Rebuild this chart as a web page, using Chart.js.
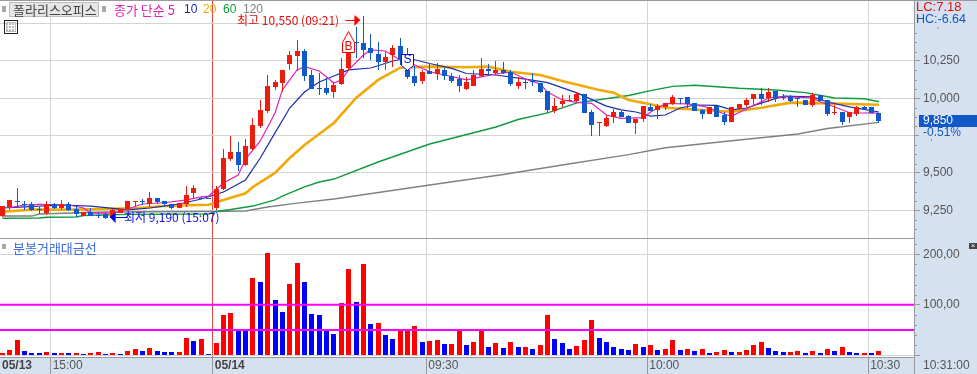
<!DOCTYPE html>
<html lang="ko">
<head>
<meta charset="utf-8">
<title>폴라리스오피스</title>
<style>
  html, body { margin: 0; padding: 0; background: #fff; overflow: hidden; }
  canvas { display: block; }
</style>
<script src="https://cdn.jsdelivr.net/npm/chart.js@4/dist/chart.umd.min.js"></script>
</head>
<body>
<canvas id="stockChart" width="977" height="374"></canvas>
<script>
// candles, one per minute (05/13 tail, then 05/14 from 09:01)
const openPrices = [
  9210,9270,9315,9290,9295,9260,9230,9290,9265,9295,
  9260,9210,9235,9220,9225,9195,9230,9250,9305,9310,
  9290,9335,9310,9290,9265,9290,9365,9335,9335,9265,
  9395,9595,9640,9555,9660,9815,9915,10075,10105,10230,
  10285,10315,10155,10070,10070,10040,10095,10200,10375,10370,
  10335,10295,10245,10290,10350,10190,10150,10115,10180,10165,
  10190,10150,10130,10060,10080,10150,10195,10170,10190,10175,
  10080,10110,10115,10100,10050,9915,9960,9980,9980,10030,
  9910,9835,9815,9875,9910,9880,9835,9860,9940,9920,
  9940,9960,10005,10010,9970,9920,9895,9950,9890,9840,
  9930,9955,9995,10030,10000,10050,10010,10010,10005,9990,
  9955,10020,9990,9900,9910,9875,9895,9940,9940,9900
];
const closePrices = [
  9280,9320,9305,9285,9250,9255,9290,9265,9290,9250,
  9225,9235,9210,9215,9195,9250,9255,9310,9315,9305,
  9335,9305,9290,9265,9300,9355,9400,9325,9330,9395,
  9600,9640,9555,9680,9820,9920,10080,10110,10190,10290,
  10315,10150,10060,10065,10035,10090,10195,10310,10370,10325,
  10305,10245,10275,10335,10265,10145,10100,10175,10165,10195,
  10150,10115,10080,10110,10155,10195,10185,10190,10170,10095,
  10110,10105,10110,10040,9920,9950,9980,9990,10030,9900,
  9820,9840,9870,9910,9875,9835,9860,9950,9915,9950,
  9970,10010,10000,9960,9915,9895,9940,9875,9840,9940,
  9960,9990,10030,9995,10040,10000,10005,9985,10000,9955,
  10020,9980,9895,9910,9840,9910,9940,9925,9900,9850
];
const highPrices = [
  9280,9320,9400,9315,9305,9275,9310,9300,9320,9305,
  9280,9235,9265,9230,9240,9255,9255,9310,9315,9325,
  9370,9335,9315,9295,9300,9410,9420,9340,9335,9415,
  9660,9745,9705,9725,9870,9990,10155,10125,10190,10315,
  10390,10330,10190,10170,10135,10110,10270,10375,10475,10550,
  10430,10375,10310,10355,10405,10335,10215,10190,10235,10235,
  10205,10170,10155,10145,10190,10270,10230,10250,10240,10190,
  10145,10125,10170,10105,10050,10000,10020,10020,10045,10030,
  9920,9840,9890,9930,9915,9885,9860,9950,9960,9960,
  9970,10020,10005,10010,9970,9925,9945,9950,9910,9945,
  9960,10000,10030,10070,10070,10050,10030,10020,10005,9990,
  10035,10020,9990,9955,9910,9910,9950,9950,9940,9900
];
const lowPrices = [
  9205,9250,9270,9250,9245,9225,9220,9260,9250,9245,
  9205,9210,9210,9195,9190,9195,9230,9250,9270,9285,
  9275,9290,9270,9260,9265,9270,9330,9325,9325,9250,
  9385,9580,9515,9545,9655,9800,9900,10055,10045,10190,
  10185,10115,10060,10020,10020,10005,10090,10180,10270,10270,
  10255,10190,10190,10210,10225,10130,10080,10095,10165,10125,
  10125,10105,10045,10055,10080,10145,10150,10155,10165,10080,
  10060,10060,10080,10035,9900,9900,9940,9980,9975,9900,
  9745,9745,9805,9835,9875,9835,9760,9840,9915,9860,
  9920,9955,9960,9935,9915,9860,9895,9875,9820,9840,
  9920,9940,9955,9955,9975,9975,9990,9975,9945,9955,
  9945,9980,9880,9890,9820,9835,9880,9920,9900,9835
];

// lower panel, r = red bar, b = blue bar
const volumes = [
  4.6,10.6,30,8.6,4.6,4.6,6.6,4.6,4.6,4.6,
  4.6,2.6,4.6,6.6,2.6,4.6,2.6,8.6,12.5,8.6,
  14.5,8.6,6.6,6.6,6.6,34,28.4,32.3,2.6,24.4,
  80,84,50,48,153,145,203,110,86,141,
  183,145,82,80,52,42,104,171,106,181,
  62,64,40,32,50,52,58,26,28,30,
  22,22,50,20,26,50,16.5,24,14.5,26,
  16.5,16.5,12.5,20,80,32,24,12.5,18.5,30,
  70,34,26,16.5,12.5,10.6,22,16.5,20,10.6,
  12.5,30,10.6,12.5,8.6,12.5,4.6,6.6,10.6,6.6,
  6.6,10.6,20,26,14.5,8.6,6.6,6.6,8.6,4.6,
  8.6,4.6,12.5,8.6,16.5,6.6,4.6,4.6,4.6,8.6
];
const volumeSides =
  'rrrbbbrbrb' + 'rbrrbrbrrb' + 'rbbbrrbrbr' + 'rrbbrbrbbr' + 'rbbbbbrrbr' +
  'brbbrrrbrr' + 'brrbrrbrbr' + 'brbrrbbbrr' + 'rbbbbbrbrb' + 'rrbrbrbrrb' +
  'rrrrbbbrrb' + 'rbrbrbbrbr';
const volumeLevels = [100, 50];

// moving averages at the candles listed in each *Bars array
const ma5Bars = [1,3,5,9,11,12,15,17,19,22,25,27,28,30,32,33,35,37,38,39,40,41,43,45,46,47,49,50,52,54,56,58,60,63,65,67,69,71,73,74,76,78,80,82,84,87,88,90,93,95,96,98,99,101,103,104,106,110,111,113,115,119];
const ma5Values = [9267,9285,9290,9285,9265,9231,9231,9258,9292,9300,9319,9339,9345,9432,9486,9593,9714,9902,10056,10123,10190,10212,10183,10102,10123,10190,10290,10324,10317,10257,10223,10178,10156,10123,10143,10163,10176,10129,10096,10042,9989,9973,9966,9888,9866,9870,9908,9965,9962,9948,9935,9895,9881,9928,9977,10002,10011,10002,9977,9942,9903,9900];
const ma10Bars = [0,3,8,12,17,20,24,27,30,33,35,37,39,41,43,45,47,50,53,55,58,61,63,67,71,74,78,82,84,86,88,90,92,94,97,99,101,103,106,110,112,115,119];
const ma10Values = [9265,9272,9285,9278,9252,9265,9292,9325,9372,9453,9600,9768,9935,10042,10109,10149,10190,10203,10250,10270,10233,10200,10166,10156,10129,10105,10036,9948,9922,9908,9881,9888,9935,9955,9952,9922,9935,9968,10015,10009,9975,9942,9908];
const ma20Bars = [0,4,10,18,22,28,30,33,34,37,39,41,45,48,51,54,58,63,66,69,73,76,81,83,85,88,90,95,99,103,107,112,119];
const ma20Values = [9240,9254,9254,9263,9278,9287,9319,9364,9406,9500,9600,9687,9835,10002,10123,10205,10212,10208,10212,10178,10156,10116,10056,10038,9989,9960,9937,9922,9910,9937,9971,9966,9957];
const ma60Bars = [0,5,6,10,11,17,28,29,31,34,37,38,41,43,45,51,58,67,70,74,78,85,88,91,94,100,105,109,113,117,119];
const ma60Values = [9196,9198,9203,9205,9215,9222,9225,9242,9255,9278,9319,9345,9406,9439,9459,9573,9694,9808,9858,9902,9969,10019,10051,10080,10087,10067,10056,10038,10002,9997,9977];
const ma120Bars = [0,4,5,14,28,33,36,40,45,58,68,76,85,90,99,108,112,119];
const ma120Values = [9211,9211,9225,9238,9242,9245,9272,9298,9325,9419,9489,9553,9623,9669,9716,9761,9798,9839];

// axis ticks
const priceTicks = [9250, 9500, 9750, 10000, 10250, 10500];
const volumeTicks = [0, 100, 200];
const volumeTickLabels = ['', '100,00', '200,00'];
const timeTicks = [-0.34, 6.54, 28.54, 57.54, 87.54, 117.54];
const timeLabels = ['05/13', '15:00', '05/14', '09:30', '10:00', '10:30'];
const lastTimeLabel = '10:31:00';

const lastPrice = 9850;
const highBar = 49;
const lowBar = 14;
const buyBar = 47;
const sellBar = 55;

const CANDLE_UP = '#EE1C0C';
const CANDLE_DOWN = '#1159C8';
const BAND = '#D6E1EF';
const AXIS_LINE = '#999999';
const GRID = '#D4D4D4';
const TEXT = '#555555';
const NUM_FONT = '"Liberation Sans", sans-serif';
const KR_FONT = '"Noto Sans CJK KR", sans-serif';

const isUp = openPrices.map((o, i) => closePrices[i] >= o);

function linePoints(bars, values) {
  return bars.map((bar, i) => ({ x: bar, y: values[i] }));
}

function maLine(label, bars, values, color, width, order) {
  return {
    type: 'line',
    label,
    data: linePoints(bars, values),
    yAxisID: 'y',
    borderColor: color,
    borderWidth: width,
    pointRadius: 0,
    tension: 0,
    order
  };
}

const xMin = -0.34;
const xMax = 123.76;

const datasets = [
  // volume panel
  {
    label: 'volume',
    data: volumes.map((v, i) => ({ x: i, y: v })),
    yAxisID: 'yVol',
    backgroundColor: volumes.map((v, i) => volumeSides[i] === 'r' ? '#FF0000' : '#0000FF'),
    barThickness: 5,
    grouped: false,
    inflateAmount: 0,
    order: 11
  },
  ...volumeLevels.map((level) => ({
    type: 'line',
    label: 'level ' + level,
    data: [{ x: xMin, y: level }, { x: xMax, y: level }],
    yAxisID: 'yVol',
    borderColor: '#FF00FF',
    borderWidth: 2,
    pointRadius: 0,
    order: 10
  })),
  // price panel
  maLine('120', ma120Bars, ma120Values, '#808080', 1.4, 9),
  maLine('60', ma60Bars, ma60Values, '#0E9A3E', 1.4, 8),
  maLine('20', ma20Bars, ma20Values, '#F0AA08', 2.6, 7),
  maLine('10', ma10Bars, ma10Values, '#1A2FA8', 1.2, 6),
  maLine('5', ma5Bars, ma5Values, '#E020B8', 1.2, 5),
  {
    label: 'wick',
    data: openPrices.map((o, i) => ({ x: i, y: [lowPrices[i], highPrices[i]] })),
    yAxisID: 'y',
    backgroundColor: isUp.map((up) => up ? CANDLE_UP : CANDLE_DOWN),
    barThickness: 1,
    grouped: false,
    inflateAmount: 0,
    order: 2
  },
  {
    label: 'body',
    data: openPrices.map((o, i) => ({ x: i, y: [Math.min(o, closePrices[i]), Math.max(o, closePrices[i])] })),
    yAxisID: 'y',
    backgroundColor: isUp.map((up) => up ? CANDLE_UP : CANDLE_DOWN),
    barThickness: 5,
    grouped: false,
    inflateAmount: 0,
    order: 1
  }
];

// the original draws on whole pixels, so snap the bars too
const snapBars = {
  id: 'snapBars',
  beforeDatasetsDraw(chart) {
    chart.getSortedVisibleDatasetMetas().forEach((meta) => {
      if (meta.type !== 'bar') return;
      meta.data.forEach((bar) => {
        bar.x = Math.floor(bar.x) + 0.5;
        bar.y = Math.round(bar.y);
        bar.base = Math.round(bar.base);
        if (bar.base - bar.y < 1) bar.base = bar.y + 1;
      });
    });
  }
};

function text(ctx, str, x, y, color, font, align) {
  ctx.font = font;
  ctx.fillStyle = color;
  ctx.textAlign = align || 'left';
  ctx.textBaseline = 'middle';
  ctx.fillText(str, x, y);
}

function hLine(ctx, x0, x1, y, color) {
  ctx.fillStyle = color;
  ctx.fillRect(x0, y, x1 - x0, 1);
}

// background bands behind the axes
const bands = {
  id: 'bands',
  beforeDraw(chart) {
    const ctx = chart.ctx;
    const right = chart.chartArea.right;
    const bottom = chart.chartArea.bottom;
    ctx.save();
    ctx.fillStyle = '#fff';
    ctx.fillRect(0, 0, chart.width, chart.height);
    ctx.fillStyle = BAND;
    ctx.fillRect(0, bottom, chart.width, chart.height - bottom);
    ctx.fillRect(right, 0, chart.width - right, chart.height);
    ctx.restore();
  }
};

// everything the trading screen paints over the chart
const overlay = {
  id: 'overlay',
  afterDraw(chart) {
    const ctx = chart.ctx;
    const { x, y, yVol } = chart.scales;
    const right = chart.chartArea.right;
    const bottom = chart.chartArea.bottom;
    ctx.save();

    // panel borders
    hLine(ctx, 0, right, 238, AXIS_LINE);
    hLine(ctx, 0, chart.width, 0, AXIS_LINE);
    ctx.fillStyle = AXIS_LINE;
    ctx.fillRect(right, 0, 1, chart.height);

    // minor ticks on the right axes
    for (let v = 9125; v < 10660; v += 62.5) {
      if (v % 250 !== 0) hLine(ctx, right, right + 3, Math.round(y.getPixelForValue(v)), AXIS_LINE);
    }
    for (let v = 20; v < 232; v += 20) {
      if (v % 100 !== 0) hLine(ctx, right, right + 3, Math.round(yVol.getPixelForValue(v)), AXIS_LINE);
    }

    // header
    ctx.fillStyle = '#A8A8A8';
    ctx.fillRect(2, 6, 4, 6);
    ctx.fillRect(102, 6, 4, 6);
    ctx.fillStyle = '#E6E6E6';
    ctx.fillRect(9, 2, 90, 14);
    ctx.strokeStyle = '#BDBDBD';
    ctx.strokeRect(9.5, 2.5, 89, 14);
    text(ctx, '폴라리스오피스', 13, 10, '#444', '13px ' + KR_FONT);
    text(ctx, '종가 단순 5', 114, 10, '#E020B8', '13px ' + KR_FONT);
    text(ctx, '10', 184, 10, '#1A2FA8', '12px ' + NUM_FONT);
    text(ctx, '20', 203, 10, '#F0AA08', '12px ' + NUM_FONT);
    text(ctx, '60', 223, 10, '#0E9A3E', '12px ' + NUM_FONT);
    text(ctx, '120', 243, 10, '#808080', '12px ' + NUM_FONT);

    // table icon
    ctx.strokeStyle = '#222';
    ctx.strokeRect(4.5, 20.5, 13, 13);
    ctx.fillStyle = '#BBB';
    ctx.fillRect(6, 22, 10, 10);
    ctx.fillStyle = '#fff';
    [8, 11, 14].forEach((px) => ctx.fillRect(px, 23, 1, 8));
    [25, 28].forEach((py) => ctx.fillRect(7, py, 8, 1));

    // high and low notes
    const highY = Math.round(y.getPixelForValue(highPrices[highBar])) + 4;
    const highX = x.getPixelForValue(highBar);
    text(ctx, '최고 10,550 (09:21)', 237, highY, '#E01010', '12px ' + KR_FONT);
    ctx.fillStyle = '#FF0000';
    ctx.fillRect(highX - 18, highY, 10, 1);
    ctx.beginPath();
    ctx.moveTo(highX - 3, highY);
    ctx.lineTo(highX - 9, highY - 5);
    ctx.lineTo(highX - 9, highY + 6);
    ctx.fill();

    const lowY = Math.round(y.getPixelForValue(lowPrices[lowBar])) - 2;
    const lowX = x.getPixelForValue(lowBar);
    text(ctx, '최저 9,190 (15:07)', 124, lowY, '#1010E0', '12px ' + KR_FONT);
    ctx.fillStyle = '#0000E0';
    ctx.fillRect(lowX + 10, lowY, 12, 1);
    ctx.beginPath();
    ctx.moveTo(lowX + 4, lowY);
    ctx.lineTo(lowX + 10, lowY - 5);
    ctx.lineTo(lowX + 10, lowY + 6);
    ctx.fill();

    // buy and sell flags
    const buyX = Math.floor(x.getPixelForValue(buyBar)) + 0.5;
    ctx.fillStyle = '#fff';
    ctx.strokeStyle = '#FF0000';
    ctx.beginPath();
    ctx.moveTo(buyX - 6, 52.5);
    ctx.lineTo(buyX - 6, 42.5);
    ctx.lineTo(buyX, 31.5);
    ctx.lineTo(buyX + 6, 42.5);
    ctx.lineTo(buyX + 6, 52.5);
    ctx.closePath();
    ctx.fill();
    ctx.stroke();
    text(ctx, 'B', buyX, 47, '#FF0000', '12px ' + NUM_FONT, 'center');

    const sellX = Math.floor(x.getPixelForValue(sellBar)) + 0.5;
    ctx.fillStyle = '#fff';
    ctx.strokeStyle = '#0000E0';
    ctx.beginPath();
    ctx.moveTo(sellX - 6, 54.5);
    ctx.lineTo(sellX + 6, 54.5);
    ctx.lineTo(sellX + 6, 65.5);
    ctx.lineTo(sellX, 70.5);
    ctx.lineTo(sellX - 6, 65.5);
    ctx.closePath();
    ctx.fill();
    ctx.stroke();
    text(ctx, 'S', sellX, 60, '#0000E0', '12px ' + NUM_FONT, 'center');

    // lower panel title and close button
    ctx.fillStyle = '#A8A8A8';
    ctx.fillRect(2, 244, 4, 5);
    text(ctx, '분봉거래대금선', 13, 248, '#3A6BE0', '13px ' + KR_FONT);
    ctx.fillStyle = '#444';
    ctx.fillRect(969, 243, 8, 6);
    text(ctx, '×', 973, 246, '#fff', '8px ' + NUM_FONT, 'center');

    // LC and HC, they sit on top of the 10,500 label
    ctx.fillStyle = BAND;
    ctx.fillRect(right + 1, 1, chart.width - right - 1, 26);
    text(ctx, 'LC:7.18', 916, 7, '#E01010', '13px ' + NUM_FONT);
    text(ctx, 'HC:-6.64', 916, 20, '#1159C8', '12.5px ' + NUM_FONT);

    // current price box, covers the 9,750 label
    const lastY = Math.round(y.getPixelForValue(lastPrice));
    ctx.fillStyle = BAND;
    ctx.fillRect(right + 5, lastY + 6, chart.width - right - 5, 12);
    ctx.fillStyle = CANDLE_DOWN;
    ctx.fillRect(919, lastY - 6, chart.width - 919, 12);
    text(ctx, '9,850', 923, lastY, '#fff', '12px ' + NUM_FONT);
    text(ctx, '-0.51%', 923, lastY + 12, '#1159C8', '12px ' + NUM_FONT);

    // time at the end of the axis
    text(ctx, lastTimeLabel, 923, bottom + 9, TEXT, '12px ' + NUM_FONT);

    ctx.restore();
  }
};

const isDateTick = (c) => (timeLabels[c.index] || '').includes('/');

// scales would otherwise push the chart area in by half a label
function fitBox(width, height) {
  return (scale) => {
    if (width) scale.width = width;
    if (height) scale.height = height;
    scale.paddingTop = scale.paddingBottom = scale.paddingLeft = scale.paddingRight = 0;
  };
}

new Chart(document.getElementById('stockChart'), {
  type: 'bar',
  data: { datasets },
  plugins: [bands, snapBars, overlay],
  options: {
    responsive: false,
    animation: false,
    events: [],
    layout: { autoPadding: false, padding: 0 },
    plugins: {
      legend: { display: false },
      title: { display: false },
      tooltip: { enabled: false }
    },
    scales: {
      x: {
        type: 'linear',
        position: 'bottom',
        min: xMin,
        max: xMax,
        offset: false,
        afterFit: fitBox(0, 17),
        afterBuildTicks: (scale) => { scale.ticks = timeTicks.map((value) => ({ value })); },
        border: { color: AXIS_LINE },
        grid: {
          offset: false,
          tickLength: 17,
          tickColor: (c) => c.index === 0 ? 'transparent' : AXIS_LINE,
          color: (c) => {
            if (c.index === 0) return 'transparent';
            return c.index === 2 ? '#E04848' : GRID;
          }
        },
        ticks: {
          autoSkip: false,
          maxRotation: 0,
          align: 'start',
          labelOffset: 2,
          padding: -16,
          color: (c) => isDateTick(c) ? '#444' : TEXT,
          font: (c) => ({
            family: NUM_FONT,
            size: 12,
            weight: isDateTick(c) ? 'bold' : 'normal'
          }),
          callback: (value, index) => timeLabels[index]
        }
      },
      y: {
        type: 'linear',
        position: 'right',
        stack: 'panels',
        stackWeight: 238,
        min: 9064,
        max: 10658.6,
        afterFit: fitBox(63, 0),
        afterBuildTicks: (scale) => { scale.ticks = priceTicks.map((value) => ({ value })); },
        border: { color: AXIS_LINE },
        grid: { color: GRID, tickColor: AXIS_LINE, tickLength: 6 },
        ticks: {
          padding: 3,
          color: TEXT,
          font: { family: NUM_FONT, size: 12 },
          callback: (value) => value.toLocaleString('en-US')
        }
      },
      yVol: {
        type: 'linear',
        position: 'right',
        stack: 'panels',
        stackWeight: 119,
        min: -3.4,
        max: 232.3,
        afterFit: fitBox(63, 0),
        afterBuildTicks: (scale) => { scale.ticks = volumeTicks.map((value) => ({ value })); },
        border: { color: AXIS_LINE },
        grid: { color: GRID, tickColor: AXIS_LINE, tickLength: 6 },
        ticks: {
          padding: 3,
          color: TEXT,
          font: { family: NUM_FONT, size: 12 },
          callback: (value, index) => volumeTickLabels[index]
        }
      }
    }
  }
});
</script>
</body>
</html>
